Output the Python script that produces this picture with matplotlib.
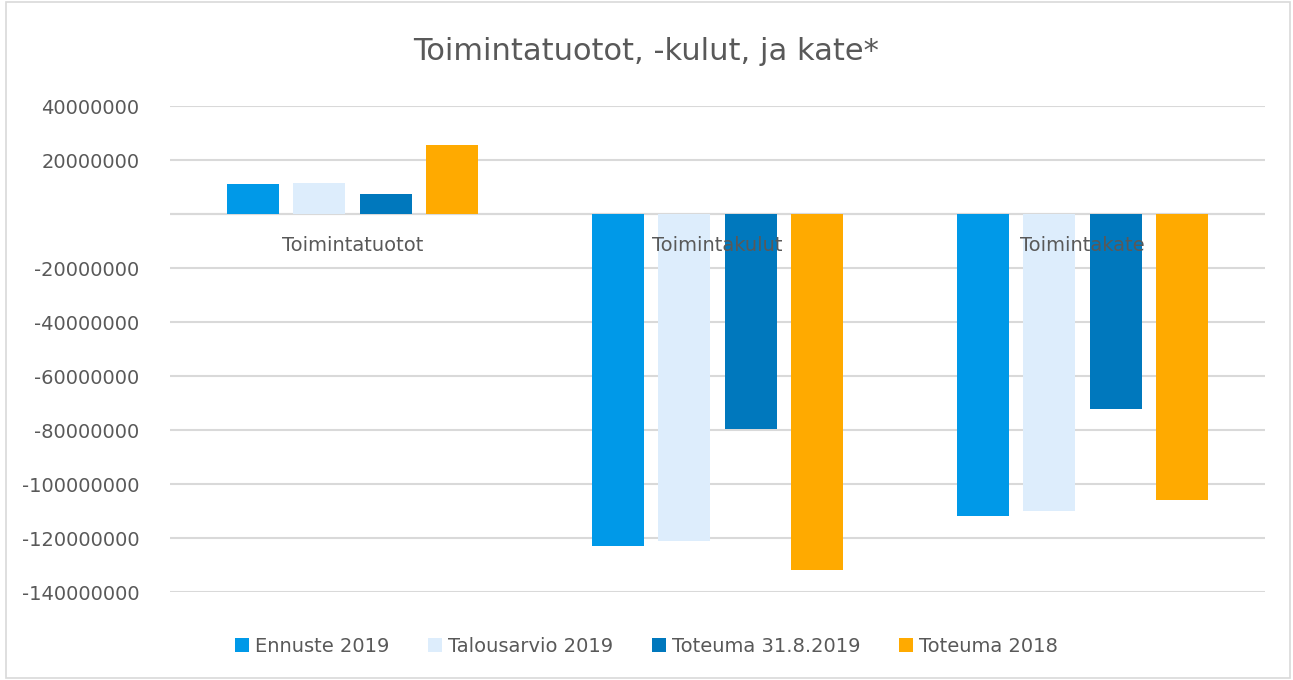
import matplotlib
matplotlib.use("Agg")
import matplotlib.pyplot as plt
import numpy as np
from matplotlib.patches import Rectangle

categories = ["Toimintatuotot", "Toimintakulut", "Toimintakate"]
series_names = ["Ennuste 2019", "Talousarvio 2019", "Toteuma 31.8.2019", "Toteuma 2018"]
ennuste_2019 = [11050000, -123100000, -112000000]
talousarvio_2019 = [11400000, -121000000, -110000000]
toteuma_31_8_2019 = [7500000, -79700000, -72200000]
toteuma_2018 = [25500000, -131800000, -106000000]
colors = ["#0099E8", "#DDEDFC", "#0078BD", "#FFAA00"]
yticks = [40000000, 20000000, 0, -20000000, -40000000, -60000000, -80000000,
          -100000000, -120000000, -140000000]
ytick_labels = ["40000000", "20000000", "", "-20000000", "-40000000", "-60000000",
                "-80000000", "-100000000", "-120000000", "-140000000"]

series = [ennuste_2019, talousarvio_2019, toteuma_31_8_2019, toteuma_2018]

plt.rcParams['font.family'] = ['DejaVu Sans']
fig = plt.figure(figsize=(12.93, 6.80), dpi=100)
ax = fig.add_axes([170/1293, 1 - 592/680, (1265-170)/1293, (592-106)/680])

x = np.arange(len(categories))
width = 0.1425
step = 0.182
for i, (name, vals, c) in enumerate(zip(series_names, series, colors)):
    ax.bar(x + (i - 1.5) * step, vals, width, color=c, label=name, zorder=3)

ax.set_xlim(-0.5, 2.5)
ax.set_ylim(-140000000, 40000000)
ax.set_yticks(yticks)
ax.set_yticklabels(ytick_labels, fontsize=14, color="#595959")
ax.yaxis.grid(True, color="#D9D9D9", linewidth=1.5, zorder=0)
ax.tick_params(axis="y", length=0, pad=22)
ax.set_xticks([])
for s in ax.spines.values():
    s.set_visible(False)
ax.axhline(0, color="#D9D9D9", linewidth=1.5, zorder=2)

for xi, cat in zip(x, categories):
    ax.text(xi, -11500000, cat, ha="center", va="center", fontsize=14,
            color="#595959", zorder=4)

fig.text(0.5, 1 - 52/680, "Toimintatuotot, -kulut, ja kate*", ha="center",
         va="center", fontsize=22, color="#595959")

leg = fig.legend(loc="center", bbox_to_anchor=(0.5, 1 - 646/680), ncol=4,
                 frameon=False, fontsize=14, handlelength=0.72, handleheight=0.72,
                 handletextpad=0.3, columnspacing=2.0, labelcolor="#595959")

fig.patches.append(Rectangle((6/1293, 2/680), (1290-6)/1293, (678-2)/680,
                             transform=fig.transFigure, fill=False,
                             edgecolor="#D9D9D9", linewidth=1.2))

fig.savefig("out.png", dpi=100, facecolor="white")
